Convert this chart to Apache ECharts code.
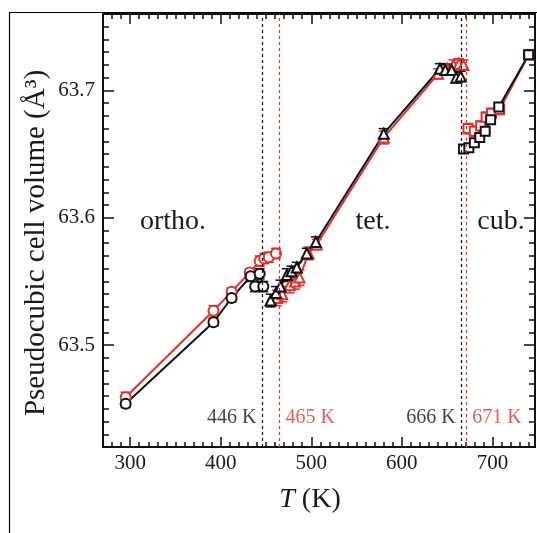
<!DOCTYPE html>
<html>
<head>
<meta charset="utf-8">
<script src="https://cdn.jsdelivr.net/npm/echarts@6/dist/echarts.min.js"></script>
<style>
  html, body { margin: 0; padding: 0; background: #fff; }
  #chart { width: 537px; height: 533px; }
</style>
</head>
<body>
<div id="chart"></div>
<script>
// data: [T (K), volume (Å^3), error]
const orthoBlack = [[295, 63.454, 0.003], [392, 63.518, 0.003], [412, 63.537, 0.003], [433, 63.554, 0.004],
  [438, 63.546, 0.004], [443, 63.556, 0.004], [447, 63.546, 0.004]];
const orthoRed = [[295, 63.459, 0.004], [392, 63.527, 0.004], [412, 63.542, 0.003], [432, 63.557, 0.003],
  [443, 63.566, 0.004], [448, 63.568, 0.004], [453, 63.569, 0.004], [461, 63.572, 0.004]];
const tetBlack = [[455, 63.535, 0.005], [461, 63.541, 0.005], [466, 63.546, 0.005], [473, 63.555, 0.005],
  [478, 63.558, 0.004], [484, 63.561, 0.004], [495, 63.572, 0.004], [505, 63.581, 0.004],
  [580, 63.666, 0.004], [642, 63.717, 0.004], [648, 63.716, 0.004], [655, 63.716, 0.004],
  [660, 63.710, 0.004], [665, 63.711, 0.004]];
const tetRed = [[462, 63.537, 0.006], [468, 63.540, 0.006], [476, 63.547, 0.006], [482, 63.550, 0.006],
  [487, 63.553, 0.006], [497, 63.572, 0.005], [506, 63.579, 0.004], [580, 63.663, 0.005],
  [640, 63.713, 0.004], [650, 63.717, 0.004], [657, 63.720, 0.004], [663, 63.721, 0.004],
  [668, 63.720, 0.004]];
const cubBlack = [[668, 63.654, 0.003], [674, 63.655, 0.003], [680, 63.659, 0.003], [686, 63.663, 0.003],
  [692, 63.668, 0.003], [698, 63.677, 0.003], [707, 63.687, 0.003], [740, 63.728, 0.003]];
const cubRed = [[673, 63.670, 0.004], [680, 63.668, 0.004], [687, 63.672, 0.004], [693, 63.679, 0.004],
  [699, 63.682, 0.004], [708, 63.685, 0.004], [740, 63.728, 0.004]];

const transitionsBlack = [446, 666];
const transitionsRed = [465, 671];
const xTicks = [300, 400, 500, 600, 700];
const yTicks = [63.5, 63.6, 63.7];

const BLACK = '#111';
const RED = '#e2312a';
const FONT = "'Liberation Serif', 'DejaVu Serif', serif";

const chart = echarts.init(document.getElementById('chart'));

// error bars through the axis scales
function errorBars(data, color) {
  return {
    type: 'custom',
    xAxisIndex: 0, yAxisIndex: 0,
    data: data,
    silent: true,
    renderItem: function (params, api) {
      const t = api.value(0), v = api.value(1), e = api.value(2);
      const top = api.coord([t, v + e]);
      const bot = api.coord([t, v - e]);
      const w = 5;
      const st = { stroke: color, lineWidth: 1.5 };
      return {
        type: 'group',
        children: [
          { type: 'line', shape: { x1: top[0], y1: top[1], x2: bot[0], y2: bot[1] }, style: st },
          { type: 'line', shape: { x1: top[0] - w, y1: top[1], x2: top[0] + w, y2: top[1] }, style: st },
          { type: 'line', shape: { x1: bot[0] - w, y1: bot[1], x2: bot[0] + w, y2: bot[1] }, style: st }
        ]
      };
    }
  };
}

function lineSeries(data, color, symbol, size) {
  return {
    type: 'line',
    xAxisIndex: 0, yAxisIndex: 0,
    data: data.map(d => [d[0], d[1]]),
    symbol: symbol,
    symbolSize: size,
    showAllSymbol: true,
    lineStyle: { color: color, width: 2 },
    itemStyle: { color: '#fff', borderColor: color, borderWidth: 2 },
    silent: true,
    z: 3
  };
}

function transitionSeries(t, color, side) {
  return {
    type: 'scatter',
    xAxisIndex: 0, yAxisIndex: 0,
    data: [[t, 63.4428]],
    symbolSize: 0,
    silent: true,
    label: {
      show: true, position: side, distance: 6,
      formatter: t + ' K', color: color, fontFamily: FONT, fontSize: 20
    },
    markLine: {
      silent: true, symbol: 'none',
      label: { show: false },
      lineStyle: { color: color, type: [3, 3], width: 1.2 },
      data: [{ xAxis: t }]
    }
  };
}

const xMin = 270, xMax = 747, yMin = 63.42, yMax = 63.76;

function xAx(pos, major) {
  return {
    type: 'value', position: pos, min: xMin, max: xMax,
    interval: major ? undefined : 10,
    axisLine: { show: true, onZero: false, lineStyle: { color: BLACK, width: 2 } },
    axisTick: major
      ? { show: true, inside: true, length: 10, customValues: xTicks, lineStyle: { color: BLACK, width: 1.5 } }
      : { show: true, inside: true, length: 5, lineStyle: { color: BLACK, width: 1.5 } },
    axisLabel: (major && pos === 'bottom')
      ? { show: true, customValues: xTicks, fontFamily: FONT, fontSize: 21, color: '#1a1a1a', margin: 6 }
      : { show: false },
    splitLine: { show: false }
  };
}

function yAx(pos, major) {
  return {
    type: 'value', position: pos, min: yMin, max: yMax,
    interval: major ? undefined : 0.01,
    axisLine: { show: true, onZero: false, lineStyle: { color: BLACK, width: 2 } },
    axisTick: major
      ? { show: true, inside: true, length: 11, customValues: yTicks, lineStyle: { color: BLACK, width: 1.5 } }
      : { show: true, inside: true, length: 6, lineStyle: { color: BLACK, width: 1.5 } },
    axisLabel: (major && pos === 'left')
      ? { show: true, customValues: yTicks, fontFamily: FONT, fontSize: 21, color: '#1a1a1a', margin: 8,
          formatter: v => v.toFixed(1) }
      : { show: false },
    splitLine: { show: false }
  };
}

chart.setOption({
  backgroundColor: '#fff',
  animation: false,
  grid: { left: 103, top: 14, width: 432, height: 433 },
  xAxis: [xAx('bottom', false), xAx('bottom', true), xAx('top', false), xAx('top', true)],
  yAxis: [yAx('left', false), yAx('left', true), yAx('right', false), yAx('right', true)],
  graphic: [
    { type: 'rect', shape: { x: 9.5, y: 12.5, width: 700, height: 700 },
      style: { fill: 'none', stroke: '#000', lineWidth: 1.2 }, silent: true, z: -1 },
    { type: 'text', x: 36, y: 243, rotation: Math.PI / 2,
      style: { text: 'Pseudocubic cell volume (Å³)', font: '29px ' + FONT, fill: '#1a1a1a',
        align: 'center', verticalAlign: 'middle' } },
    { type: 'text', x: 310, y: 500,
      style: { text: '{i|T} (K)', font: '28px ' + FONT, fill: '#1a1a1a', align: 'center', verticalAlign: 'middle',
        rich: { i: { fontStyle: 'italic', fontFamily: FONT, fontSize: 28, fill: '#1a1a1a' } } } },
    { type: 'text', x: 173, y: 222,
      style: { text: 'ortho.', font: '28px ' + FONT, fill: '#1a1a1a', align: 'center', verticalAlign: 'middle' } },
    { type: 'text', x: 373, y: 222,
      style: { text: 'tet.', font: '28px ' + FONT, fill: '#1a1a1a', align: 'center', verticalAlign: 'middle' } },
    { type: 'text', x: 501, y: 222,
      style: { text: 'cub.', font: '28px ' + FONT, fill: '#1a1a1a', align: 'center', verticalAlign: 'middle' } }
  ],
  series: [
    transitionSeries(transitionsBlack[0], BLACK, 'left'),
    transitionSeries(transitionsRed[0], RED, 'right'),
    transitionSeries(transitionsBlack[1], BLACK, 'left'),
    transitionSeries(transitionsRed[1], RED, 'right'),
    errorBars(orthoRed, RED), lineSeries(orthoRed, RED, 'circle', 10),
    errorBars(tetRed, RED), lineSeries(tetRed, RED, 'triangle', 10),
    errorBars(cubRed, RED), lineSeries(cubRed, RED, 'rect', 9),
    errorBars(orthoBlack, BLACK), lineSeries(orthoBlack, BLACK, 'circle', 10),
    errorBars(tetBlack, BLACK), lineSeries(tetBlack, BLACK, 'triangle', 10),
    errorBars(cubBlack, BLACK), lineSeries(cubBlack, BLACK, 'rect', 9)
  ]
});
</script>
</body>
</html>
